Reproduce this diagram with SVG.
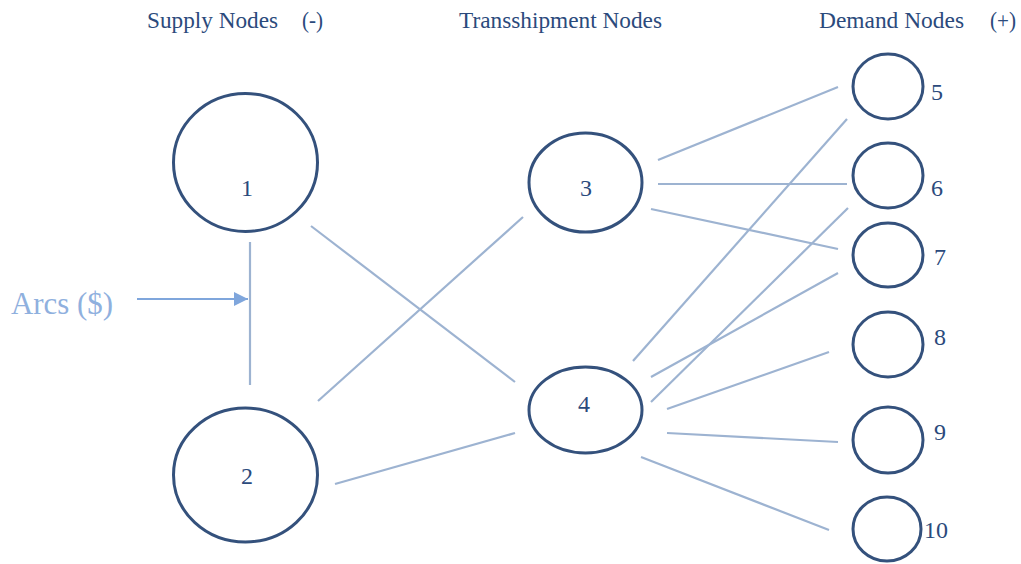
<svg xmlns="http://www.w3.org/2000/svg" width="1021" height="564" viewBox="0 0 1021 564">
<style>
.hdr{font-family:"Liberation Serif","Times New Roman",serif;font-size:24px;fill:#2b4a7c}
.lbl{font-family:"Liberation Serif","Times New Roman",serif;font-size:24px;fill:#2b4a7c}
.node{fill:#fff;stroke:#34517c;stroke-width:3}
.arc{stroke:#9db3d1;stroke-width:2.2;fill:none;stroke-linecap:butt}
.arcs-txt{font-family:"Liberation Serif","Times New Roman",serif;font-size:31px;fill:#8fb0de}
</style>
<defs>
<marker id="ah" viewBox="0 0 10 10" refX="10" refY="5" markerWidth="16" markerHeight="14" markerUnits="userSpaceOnUse" orient="auto">
<path d="M0,0 L10,5 L0,10 z" fill="#7fa6dc"/>
</marker>
</defs>
<rect width="1021" height="564" fill="#fff"/>
<g id="headers">
<text class="hdr" x="147" y="28" textLength="131" lengthAdjust="spacingAndGlyphs">Supply Nodes</text>
<text class="hdr" x="302" y="28" textLength="21" lengthAdjust="spacingAndGlyphs">(-)</text>
<text class="hdr" x="459" y="28" textLength="203" lengthAdjust="spacingAndGlyphs">Transshipment Nodes</text>
<text class="hdr" x="819" y="28" textLength="145" lengthAdjust="spacingAndGlyphs">Demand Nodes</text>
<text class="hdr" x="990" y="28" textLength="26" lengthAdjust="spacingAndGlyphs">(+)</text>
</g>
<g id="connectors">
<line class="arc" x1="250" y1="242" x2="250" y2="385"/>
<line class="arc" x1="311" y1="226" x2="515" y2="382"/>
<line class="arc" x1="318" y1="401" x2="523" y2="217"/>
<line class="arc" x1="335" y1="484" x2="515" y2="433"/>
<line class="arc" x1="658" y1="160" x2="838" y2="87"/>
<line class="arc" x1="658" y1="184" x2="847" y2="184"/>
<line class="arc" x1="651" y1="209" x2="838" y2="249"/>
<line class="arc" x1="633" y1="361" x2="847" y2="119"/>
<line class="arc" x1="651" y1="402" x2="848" y2="208"/>
<line class="arc" x1="651" y1="377" x2="838" y2="273"/>
<line class="arc" x1="667" y1="409" x2="829" y2="352"/>
<line class="arc" x1="667" y1="433" x2="838" y2="442"/>
<line class="arc" x1="641" y1="457" x2="829" y2="530"/>
</g>
<g id="arcs-label">
<text class="arcs-txt" x="11" y="314" textLength="102" lengthAdjust="spacingAndGlyphs">Arcs ($)</text>
<line x1="137" y1="299" x2="248" y2="299" stroke="#7fa6dc" stroke-width="2.2" marker-end="url(#ah)"/>
</g>
<g id="node1"><ellipse class="node" cx="245.5" cy="162.5" rx="72" ry="69"/><text class="lbl" x="247" y="196" text-anchor="middle">1</text></g>
<g id="node2"><ellipse class="node" cx="245.5" cy="475" rx="72" ry="67"/><text class="lbl" x="247" y="484" text-anchor="middle">2</text></g>
<g id="node3"><ellipse class="node" cx="585.5" cy="182.5" rx="56.5" ry="49.5"/><text class="lbl" x="586" y="196" text-anchor="middle">3</text></g>
<g id="node4"><ellipse class="node" cx="585.5" cy="410" rx="56.5" ry="43"/><text class="lbl" x="584" y="412" text-anchor="middle">4</text></g>
<g id="node5"><ellipse class="node" cx="888" cy="86.5" rx="35" ry="32.5"/><text class="lbl" x="931" y="100">5</text></g>
<g id="node6"><ellipse class="node" cx="888" cy="175.5" rx="35" ry="32.5"/><text class="lbl" x="931" y="196">6</text></g>
<g id="node7"><ellipse class="node" cx="888" cy="255" rx="35" ry="32"/><text class="lbl" x="934" y="265">7</text></g>
<g id="node8"><ellipse class="node" cx="888" cy="344.5" rx="35" ry="32.5"/><text class="lbl" x="934" y="345">8</text></g>
<g id="node9"><ellipse class="node" cx="888" cy="440" rx="35" ry="33"/><text class="lbl" x="934" y="440">9</text></g>
<g id="node10"><ellipse class="node" cx="887" cy="529" rx="34" ry="32"/><text class="lbl" x="924" y="538">10</text></g>
</svg>
